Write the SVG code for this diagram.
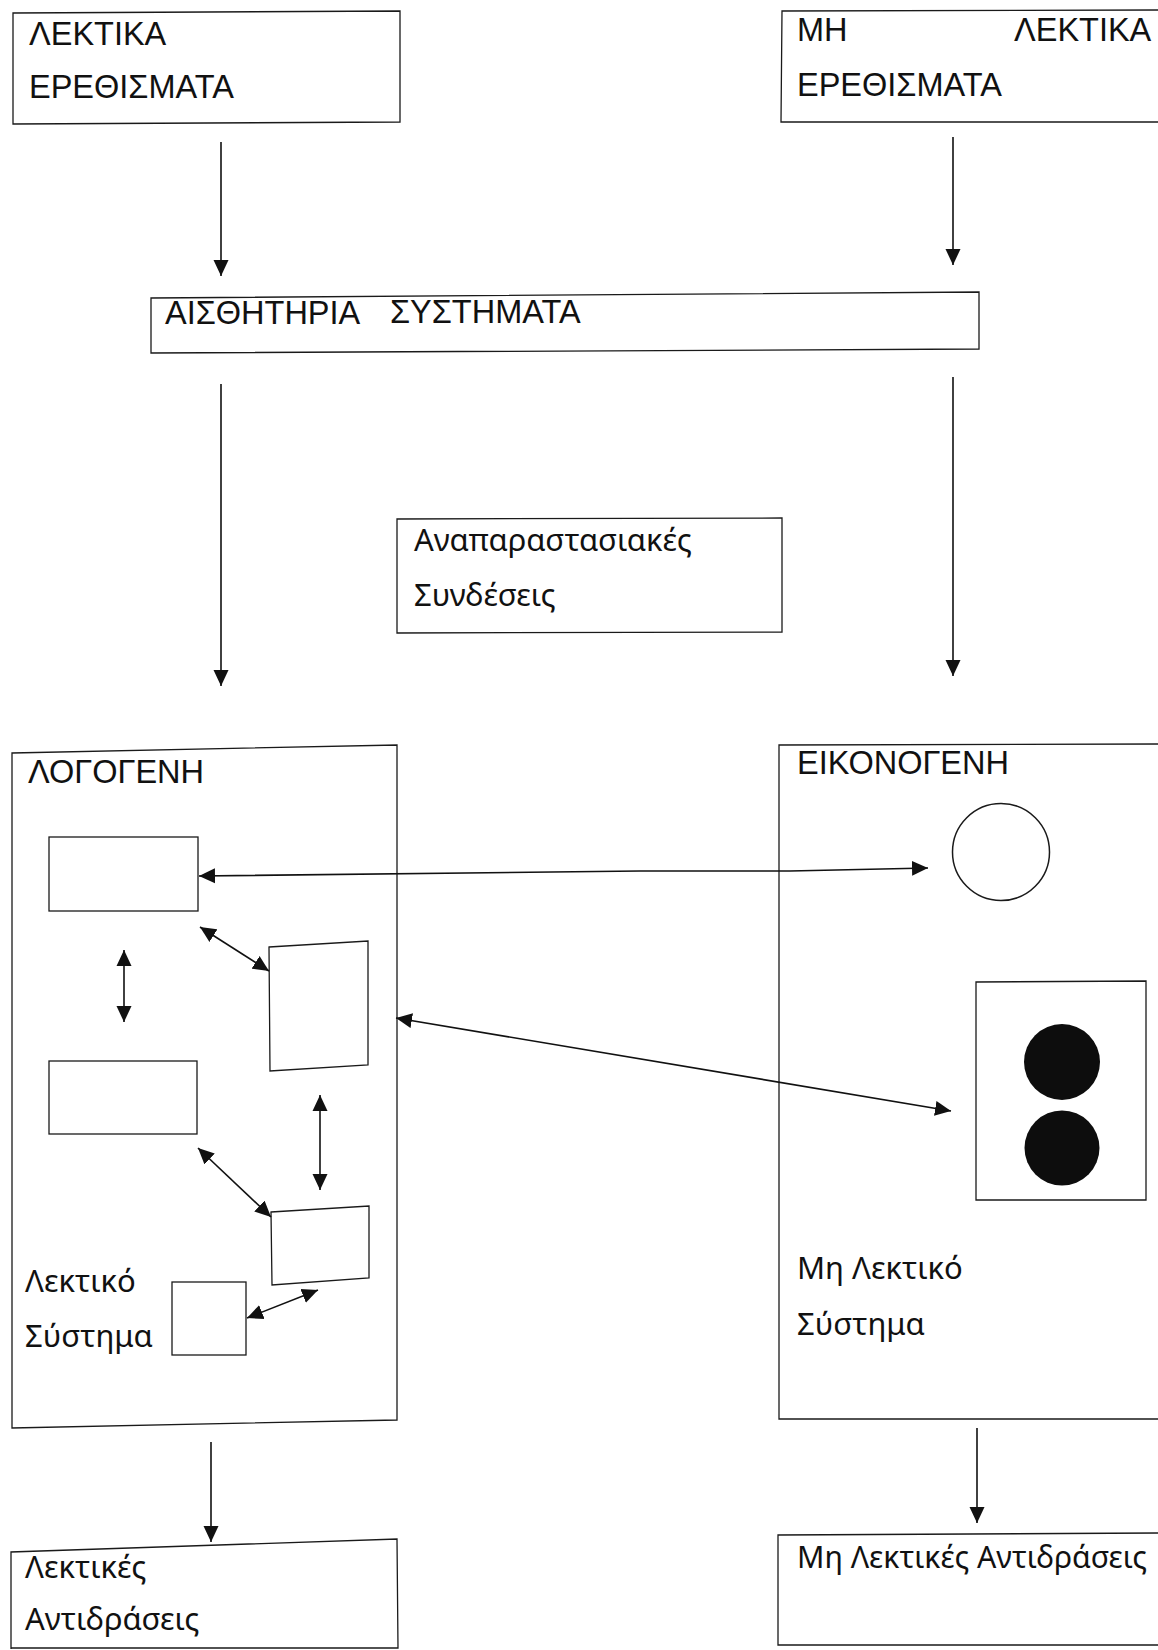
<svg xmlns="http://www.w3.org/2000/svg" width="1158" height="1650" viewBox="0 0 1158 1650">
  <style>
    .box { fill: none; stroke: #1a1a1a; stroke-width: 1.3; stroke-linejoin: miter; }
    .wire { fill: none; stroke: #111; stroke-width: 1.6; }
    .caps { font-family: "Liberation Sans", Arial, sans-serif; font-size: 32.5px; fill: #111; }
    .lower { font-family: "Noto Sans", "Open Sans", sans-serif; font-size: 31px; fill: #111; }
  </style>
  <defs>
    <marker id="head" viewBox="0 0 16 16" refX="16" refY="8" markerWidth="16" markerHeight="16" markerUnits="userSpaceOnUse" orient="auto-start-reverse">
      <path d="M0,0.5 L16,8 L0,15.5 Z" fill="#111"/>
    </marker>
  </defs>
  <rect width="1158" height="1650" fill="#ffffff"/>

  <!-- verbal stimuli -->
  <g id="verbal-stimuli">
    <polygon class="box" points="13,13 400,11 400,122 13,124"/>
    <text class="caps" x="29" y="45">ΛΕΚΤΙΚΑ</text>
    <text class="caps" x="29" y="98">ΕΡΕΘΙΣΜΑΤΑ</text>
  </g>

  <!-- non-verbal stimuli -->
  <g id="nonverbal-stimuli">
    <polyline class="box" points="1158,10 782,11 781,122 1158,122"/>
    <text class="caps" x="797" y="41">ΜΗ</text>
    <text class="caps" x="1014" y="41">ΛΕΚΤΙΚΑ</text>
    <text class="caps" x="797" y="96">ΕΡΕΘΙΣΜΑΤΑ</text>
  </g>

  <!-- sensory systems -->
  <g id="sensory-systems">
    <polygon class="box" points="151,298 979,292 979,349 151,353"/>
    <text class="caps" x="165" y="324">ΑΙΣΘΗΤΗΡΙΑ</text>
    <text class="caps" x="390" y="323">ΣΥΣΤΗΜΑΤΑ</text>
  </g>

  <!-- representational links -->
  <g id="representational-links">
    <polygon class="box" points="397,519 782,518 782,632 397,633"/>
    <text class="lower" x="414" y="551">Αναπαραστασιακές</text>
    <text class="lower" x="414" y="606">Συνδέσεις</text>
  </g>

  <!-- logogens (verbal system) -->
  <g id="logogens">
    <polygon class="box" points="12,753 397,745 397,1420 12,1428"/>
    <text class="caps" x="28" y="783">ΛΟΓΟΓΕΝΗ</text>
    <text class="lower" x="25" y="1292">Λεκτικό</text>
    <text class="lower" x="25" y="1347">Σύστημα</text>
  </g>
  <g id="logogen-a"><rect class="box" x="49" y="837" width="149" height="74"/></g>
  <g id="logogen-b"><polygon class="box" points="269,947 368,941 368,1065 270,1071"/></g>
  <g id="logogen-c"><rect class="box" x="49" y="1061" width="148" height="73"/></g>
  <g id="logogen-d"><polygon class="box" points="271,1212 369,1206 369,1278 272,1285"/></g>
  <g id="logogen-e"><rect class="box" x="172" y="1282" width="74" height="73"/></g>

  <!-- imagens (non-verbal system) -->
  <g id="imagens">
    <polyline class="box" points="1158,744 779,745 779,1419 1158,1419"/>
    <text class="caps" x="797" y="774">ΕΙΚΟΝΟΓΕΝΗ</text>
    <text class="lower" x="797" y="1279">Μη Λεκτικό</text>
    <text class="lower" x="797" y="1335">Σύστημα</text>
  </g>
  <g id="imagen-circle"><circle cx="1001" cy="852" r="48.5" fill="none" stroke="#1a1a1a" stroke-width="1.5"/></g>
  <g id="imagen-pair">
    <polygon class="box" points="976,982 1146,981 1146,1200 976,1200"/>
    <circle cx="1062" cy="1062" r="38" fill="#0d0d0d"/>
    <circle cx="1062" cy="1148" r="37.5" fill="#0d0d0d"/>
  </g>

  <!-- verbal responses -->
  <g id="verbal-responses">
    <polyline class="box" points="11,1649 11,1552 397,1539 398,1648 11,1648"/>
    <text class="lower" x="25" y="1578">Λεκτικές</text>
    <text class="lower" x="25" y="1630">Αντιδράσεις</text>
  </g>

  <!-- non-verbal responses -->
  <g id="nonverbal-responses">
    <polyline class="box" points="1158,1533 778,1535 778,1645 1158,1645"/>
    <text class="lower" x="797" y="1568" textLength="350" lengthAdjust="spacingAndGlyphs">Μη Λεκτικές Αντιδράσεις</text>
  </g>

  <!-- connectors -->
  <g id="connectors">
    <line class="wire" x1="221" y1="142" x2="221" y2="276" marker-end="url(#head)"/>
    <line class="wire" x1="953" y1="137" x2="953" y2="265" marker-end="url(#head)"/>
    <line class="wire" x1="221" y1="384" x2="221" y2="686" marker-end="url(#head)"/>
    <line class="wire" x1="953" y1="377" x2="953" y2="676" marker-end="url(#head)"/>

    <polyline class="wire" points="199,876 640,871 790,871 928,868" marker-start="url(#head)" marker-end="url(#head)"/>
    <line class="wire" x1="396" y1="1018" x2="951" y2="1111" marker-start="url(#head)" marker-end="url(#head)"/>

    <line class="wire" x1="124" y1="950" x2="124" y2="1022" marker-start="url(#head)" marker-end="url(#head)"/>
    <line class="wire" x1="200" y1="927" x2="269" y2="971" marker-start="url(#head)" marker-end="url(#head)"/>
    <line class="wire" x1="320" y1="1095" x2="320" y2="1190" marker-start="url(#head)" marker-end="url(#head)"/>
    <line class="wire" x1="198" y1="1148" x2="271" y2="1217" marker-start="url(#head)" marker-end="url(#head)"/>
    <line class="wire" x1="247" y1="1318" x2="318" y2="1290" marker-start="url(#head)" marker-end="url(#head)"/>

    <line class="wire" x1="211" y1="1442" x2="211" y2="1542" marker-end="url(#head)"/>
    <line class="wire" x1="977" y1="1428" x2="977" y2="1523" marker-end="url(#head)"/>
  </g>
</svg>
